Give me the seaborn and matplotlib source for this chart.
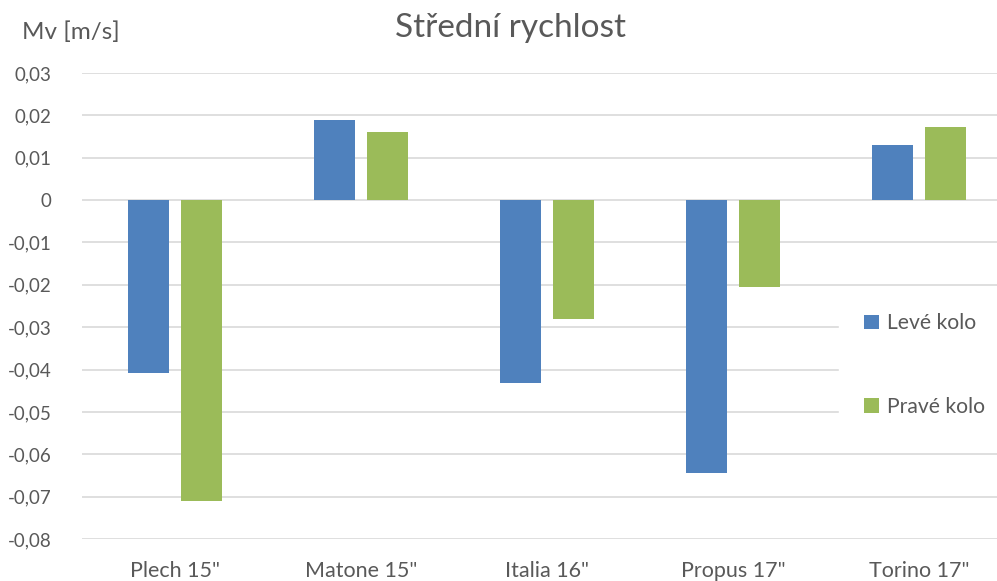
import matplotlib
matplotlib.use("Agg")
import matplotlib.pyplot as plt
import matplotlib.ticker as mticker
import seaborn as sns
import pandas as pd

categories = ['Plech 15"', 'Matone 15"', 'Italia 16"', 'Propus 17"', 'Torino 17"']
leve_kolo = [-0.0408, 0.0189, -0.0432, -0.0644, 0.0130]
prave_kolo = [-0.0711, 0.0160, -0.0281, -0.0205, 0.0172]
series_names = ["Levé kolo", "Pravé kolo"]
colors = ["#4F81BD", "#9BBB59"]
yticks = [0.03, 0.02, 0.01, 0.0, -0.01, -0.02, -0.03, -0.04, -0.05, -0.06, -0.07, -0.08]

df = pd.DataFrame({
    "kategorie": categories * 2,
    "hodnota": leve_kolo + prave_kolo,
    "serie": [series_names[0]] * len(categories) + [series_names[1]] * len(categories),
})

sns.set_theme(style="white")
plt.rcParams["font.family"] = ["Lato", "DejaVu Sans"]
text_color = "#595959"

fig = plt.figure(figsize=(9.97, 5.81), dpi=100)
ax = fig.add_axes([82 / 997, 1 - 539 / 581, 1 - 82 / 997, (539 - 73) / 581])

sns.barplot(data=df, x="kategorie", y="hodnota", hue="serie", palette=colors,
            width=0.57, gap=0.23, ax=ax, order=categories, hue_order=series_names,
            linewidth=0, saturation=1, zorder=3)

ax.set_ylim(-0.08, 0.03)
ax.set_xlim(-0.5, 4.42)
ax.set_yticks(yticks)
ax.yaxis.set_major_formatter(mticker.FuncFormatter(
    lambda v, p: "0" if abs(v) < 1e-9 else f"{v:.2f}".replace(".", ",")))
ax.grid(axis="y", color="#D9D9D9", linewidth=1.2, zorder=0)
ax.set_axisbelow(True)
for s in ax.spines.values():
    s.set_visible(False)
ax.tick_params(axis="both", length=0, colors=text_color)
ax.tick_params(axis="y", pad=22, labelsize=13.5)
ax.tick_params(axis="x", pad=16, labelsize=15.5)
ax.set_xlabel("")
ax.set_ylabel("")

fig.text(22 / 997, 1 - 32 / 581, "Mv [m/s]", fontsize=17.5, color=text_color,
         ha="left", va="center")
fig.text(510 / 997, 1 - 28 / 581, "Střední rychlost", fontsize=24, color=text_color,
         ha="center", va="center")

leg = ax.legend(loc="center left", bbox_to_anchor=(828 / 997, 1 - 365 / 581),
                bbox_transform=fig.transFigure, frameon=True, fontsize=15.2,
                labelspacing=3.0, handlelength=0.7, handleheight=0.7,
                handletextpad=0.4, borderpad=1.2)
leg.get_frame().set_facecolor("white")
leg.get_frame().set_edgecolor("white")
leg.get_frame().set_alpha(1)
for t in leg.get_texts():
    t.set_color(text_color)

fig.savefig("out.png", dpi=100, facecolor="white")
